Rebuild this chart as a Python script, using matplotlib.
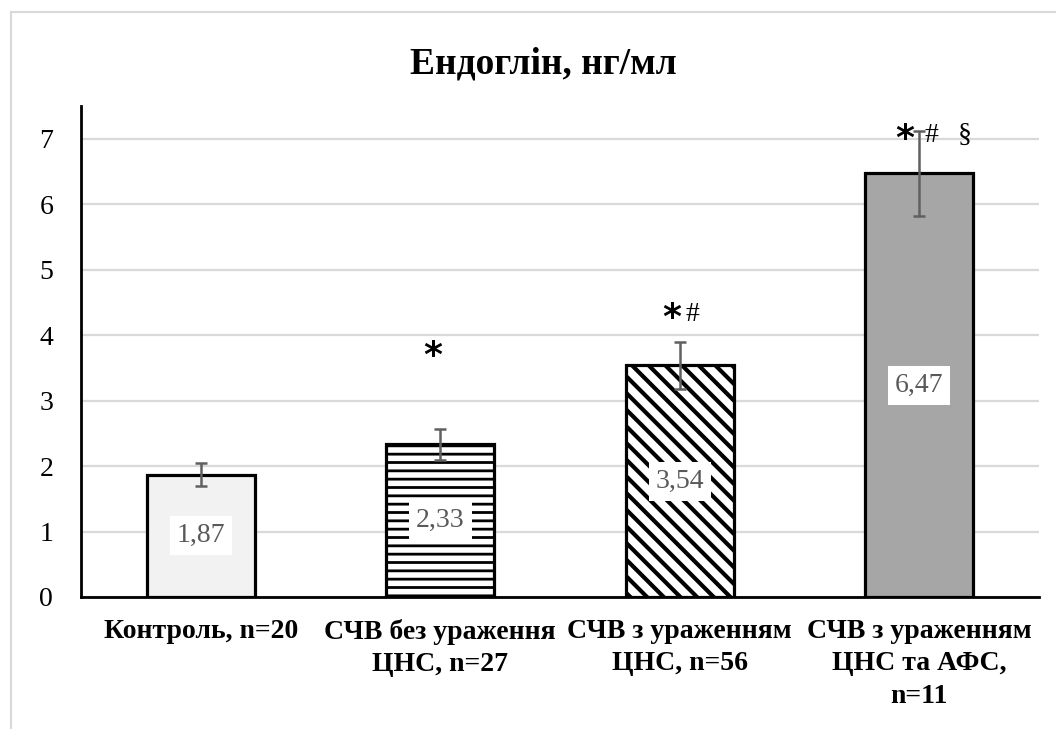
import matplotlib
matplotlib.use("Agg")
import matplotlib.pyplot as plt
from matplotlib.patches import Rectangle

plt.rcParams['font.family'] = ['Liberation Serif', 'DejaVu Serif']

# дані
groups = ['Контроль, n=20', 'СЧВ без ураження\nЦНС, n=27',
          'СЧВ з ураженням\nЦНС, n=56', 'СЧВ з ураженням\nЦНС та АФС,\nn=11']
means = [1.87, 2.33, 3.54, 6.47]
errors = [0.18, 0.24, 0.36, 0.65]
labels = ['1,87', '2,33', '3,54', '6,47']
marks = [[], ['*'], ['*', '#'], ['*', '#', '§']]

fills = ['#f2f2f2', 'white', 'white', '#a6a6a6']
hatches = [None, '--', '\\\\', None]
hatch_lw = [1.0, 2.0, 3.0, 1.0]

fig = plt.figure(figsize=(10.56, 7.29), dpi=100)
# світло-сіра рамка області діаграми
fig.patches.append(Rectangle((11 / 1056, -0.1), 1.2, 1.1 - 12 / 729,
                             transform=fig.transFigure, fill=False,
                             edgecolor='#d9d9d9', linewidth=1.5))
ax = fig.add_axes([81 / 1056, 1 - 597 / 729, 958 / 1056, 491 / 729])

x = list(range(len(means)))
for i in x:
    with plt.rc_context({'hatch.linewidth': hatch_lw[i]}):
        ax.bar(i, means[i], width=0.45, color=fills[i], edgecolor='black',
               linewidth=2.3, hatch=hatches[i], zorder=3)
    ax.errorbar(i, means[i], yerr=errors[i], fmt='none', ecolor='#606060',
                elinewidth=1.8, capsize=4.5, capthick=1.8, zorder=4)
    ax.text(i, means[i] / 2, labels[i], ha='center', va='center',
            fontsize=20, color='#595959', zorder=5,
            bbox=dict(facecolor='white', edgecolor='none', pad=5))

# позначки достовірності над стовпчиками
mark_dx = {1: [-0.03], 2: [-0.033, 0.054], 3: [-0.062, 0.051, 0.189]}
mark_y = [None, 3.77, 4.35, 7.09]
for i in x:
    for k, m in enumerate(marks[i]):
        dx = mark_dx[i][k]
        if m == '*':
            ax.text(i + dx, mark_y[i] - 0.09, m, ha='center', va='center',
                    fontsize=26, fontweight='bold', family='DejaVu Sans', zorder=6)
        else:
            ax.text(i + dx, mark_y[i] - 0.04, m, ha='center', va='center',
                    fontsize=20, zorder=6)

ax.set_xlim(-0.5, 3.5)
ax.set_ylim(0, 7.5)
ax.set_yticks(range(8))
ax.yaxis.grid(True, color='#d9d9d9', linewidth=1.6, zorder=0)
ax.set_axisbelow(True)
for s in ['top', 'right']:
    ax.spines[s].set_visible(False)
ax.spines['left'].set_linewidth(2)
ax.spines['bottom'].set_linewidth(2)
ax.tick_params(axis='both', length=0)
ax.tick_params(axis='y', labelsize=20, pad=20)
ax.set_xticks(x)
ax.set_xticklabels(groups, fontsize=20, fontweight='bold', linespacing=1.38)
ax.tick_params(axis='x', pad=16)

fig.text(543 / 1056, 1 - 64 / 729, 'Ендоглін, нг/мл', ha='center', va='center',
         fontsize=27, fontweight='bold')

fig.savefig('out.png', dpi=100)
